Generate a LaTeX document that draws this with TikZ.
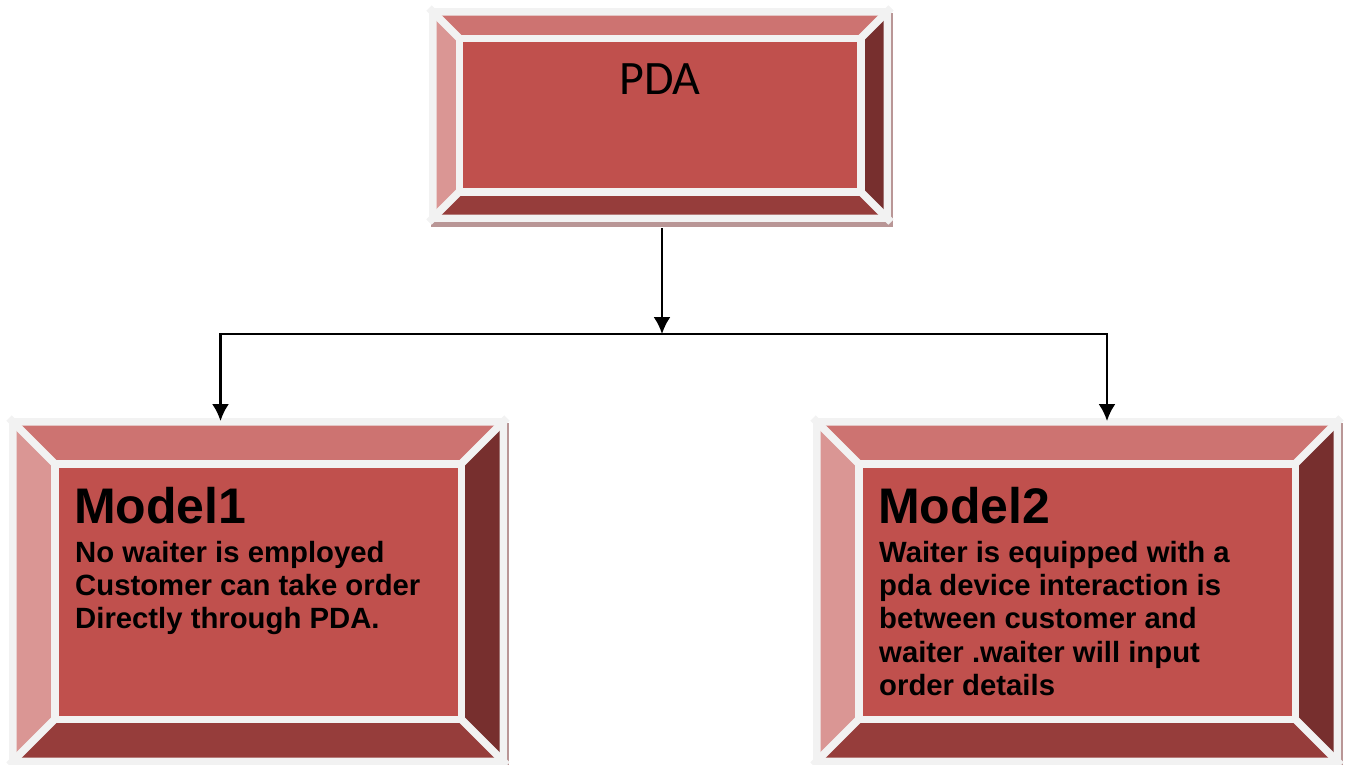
\documentclass[tikz,border=0pt]{standalone}
\usepackage{fontspec}
\setmainfont{Liberation Sans}
\newfontfamily\calibri{Carlito}
\usepackage{tikz}
\usetikzlibrary{arrows.meta,calc,positioning,shadows}

\definecolor{framegray}{HTML}{F2F2F2}
\definecolor{facered}{HTML}{C0504D}
\definecolor{bevtop}{HTML}{CD7371}
\definecolor{bevleft}{HTML}{DA9694}
\definecolor{bevright}{HTML}{772F2E}
\definecolor{bevbottom}{HTML}{963D3B}
\definecolor{shadowred}{HTML}{B99696}

\tikzset{
  boxframe/.style={fill=framegray, inner sep=0pt, outer sep=0pt,
    drop shadow={shadow xshift=2pt, shadow yshift=-5pt, fill=shadowred, opacity=1}},
  whiteline/.style={draw=framegray, line width=7.5pt},
  arr/.style={black, line width=2.2pt, -{Latex[length=17pt,width=17pt]}},
  titlefont/.style={font=\fontsize{50}{56}\selectfont\bfseries},
  bodyfont/.style={font=\fontsize{29.3}{33.2}\selectfont\bfseries},
}

% bevelled face drawn inside a frame node: #1 = node, #2 = bevel depth
\newcommand{\bevelbox}[2]{%
  \coordinate (#1-a) at ($(#1.north west)+(7.5,7.5)$);
  \coordinate (#1-b) at ($(#1.north east)+(-7.5,7.5)$);
  \coordinate (#1-c) at ($(#1.south east)+(-7.5,-7.5)$);
  \coordinate (#1-d) at ($(#1.south west)+(7.5,-7.5)$);
  \coordinate (#1-e) at ($(#1-a)+(#2,#2)$);
  \coordinate (#1-f) at ($(#1-b)+(-#2,#2)$);
  \coordinate (#1-g) at ($(#1-c)+(-#2,-#2)$);
  \coordinate (#1-h) at ($(#1-d)+(#2,-#2)$);
  \fill[bevtop] (#1-a) -- (#1-b) -- (#1-f) -- (#1-e) -- cycle;
  \fill[bevright] (#1-b) -- (#1-c) -- (#1-g) -- (#1-f) -- cycle;
  \fill[bevbottom] (#1-c) -- (#1-d) -- (#1-h) -- (#1-g) -- cycle;
  \fill[bevleft] (#1-d) -- (#1-a) -- (#1-e) -- (#1-h) -- cycle;
  \fill[facered] (#1-e) rectangle (#1-g);
  \draw[whiteline] (#1-e) rectangle (#1-g);
  \draw[whiteline] (#1.north west) -- (#1-e);
  \draw[whiteline] (#1.north east) -- (#1-f);
  \draw[whiteline] (#1.south east) -- (#1-g);
  \draw[whiteline] (#1.south west) -- (#1-h);
}

\begin{document}
\begin{tikzpicture}[x=1pt,y=-1pt]
\useasboundingbox (0,0) rectangle (1348,764);
\clip (0,0) rectangle (1348,764);
% ==========================================
\node[boxframe, minimum width=462pt, minimum height=214pt] (pda) at (660,115) {};
\bevelbox{pda}{22.75}
\node (pda-label) at (660,94) [anchor=base,inner sep=0pt,font=\calibri\fontsize{48}{53}\selectfont] {PDA};
%
\node[boxframe, minimum width=498pt, minimum height=347pt] (model1) at (258,591.5) {};
\bevelbox{model1}{38.25}
\node (model1-title) at (74,523) [anchor=base west,inner sep=0pt,titlefont] {Model1};
\node (model1-text) at (75,541) [anchor=north west,inner sep=0pt,align=left,bodyfont] {
No waiter is employed\\
Customer can take order\\
Directly through PDA.
};
%
\node[boxframe, minimum width=528pt, minimum height=347pt] (model2) at (1077,591.5) {};
\bevelbox{model2}{38.25}
\node (model2-title) at (878,523) [anchor=base west,inner sep=0pt,titlefont] {Model2};
\node (model2-text) at (879,541) [anchor=north west,inner sep=0pt,align=left,bodyfont] {
Waiter is equipped with a\\
pda device interaction is\\
between customer and\\
waiter .waiter will input\\
order details
};
%
\coordinate (split) at (662,334);
\coordinate (split-l) at (220.5,334);
\coordinate (split-r) at (1107,334);
%
\draw[arr, shorten <=6pt] (split |- pda.south) -- (split);
\draw[black, line width=2.2pt, line cap=rect] (split-l) -- (split-r);
\draw[arr, shorten >=-3pt] (split-l) -- (split-l |- model1.north);
\draw[arr, shorten >=-3pt] (split-r) -- (split-r |- model2.north);
% =============================================
\end{tikzpicture}
\end{document}
